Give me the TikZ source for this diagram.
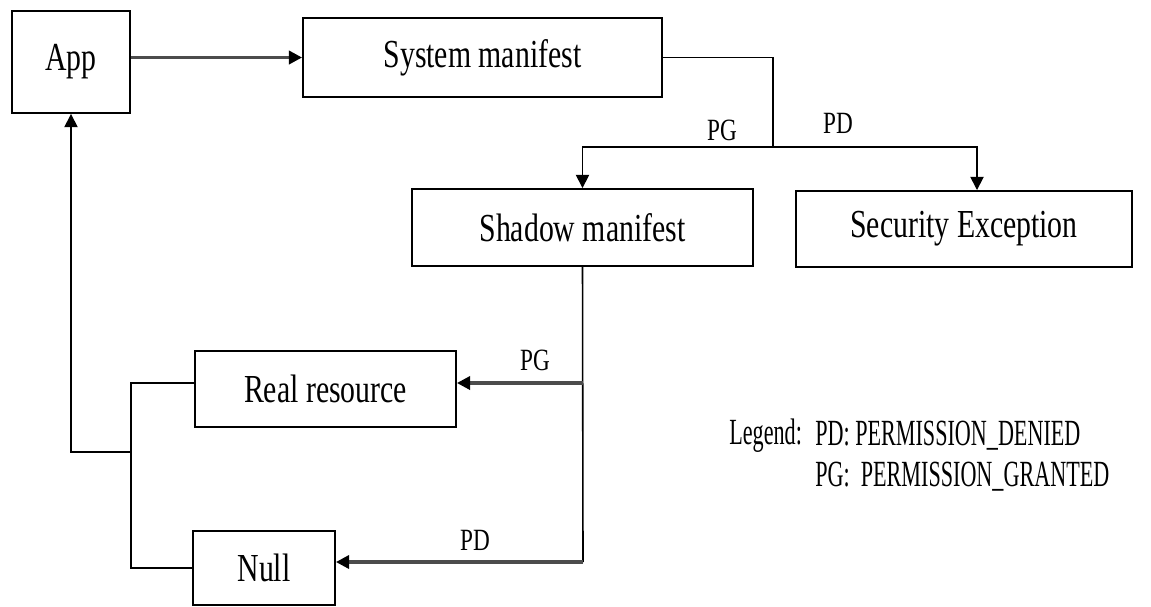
\documentclass[tikz,border=0pt]{standalone}
\usepackage{fontspec}
\setmainfont{Liberation Serif}[FakeStretch=0.75]
\newfontfamily\legendfont{Liberation Serif}[FakeStretch=0.6]
\usetikzlibrary{arrows.meta}

\tikzset{>={Triangle[length=7.5pt,width=7.5pt,color=black]}}
\tikzset{
	box/.style={draw, line width=1.1pt, inner sep=0pt, font=\fontsize{22.6}{26}\selectfont},
	link/.style={line width=0.9pt},
	feed/.style={->, line width=1.8pt, draw=black!70},
	tag/.style={font=\fontsize{17.6}{20}\selectfont},
	key/.style={anchor=west, inner sep=0pt, font=\legendfont\fontsize{21}{24}\selectfont}
}

\begin{document}
\begin{tikzpicture}[x=0.02cm, y=-0.02cm]
		
			\useasboundingbox (0,0) rectangle (1151,606);
		
			% boxes
			\node[box, minimum width=2.36cm, minimum height=2.04cm] (app) at (71,62) {App};
			\node[box, minimum width=7.18cm, minimum height=1.58cm] (sysman) at (482.5,57.5) {System manifest};
			\node[box, minimum width=6.82cm, minimum height=1.54cm] (shadow) at (582.5,227.5) {Shadow manifest};
			\node[box, minimum width=6.72cm, minimum height=1.52cm] (secexc) at (964,229) {Security Exception};
			\node[box, minimum width=5.22cm, minimum height=1.52cm] (real) at (325.5,389) {Real resource};
			\node[box, minimum width=2.84cm, minimum height=1.48cm] (null) at (264,568) {Null};
			
			% turning points
			\coordinate (split) at (773,147);
			\coordinate (pdturn) at (977,147);
			\coordinate (pgturn) at (583,383);
			\coordinate (shbot) at (583,562);
			\coordinate (back) at (131,452);
			
			\draw[feed] (app.east |- sysman.west) -- (sysman.west);
			\draw[link] (sysman.east) -| (split);
			\draw[link, ->] (split) -| (shadow.north);
			\draw[link, ->] (split) -- (pdturn) -- (pdturn |- secexc.north);
			
			\draw[link] (shadow.south) -- (shbot);
			\draw[feed] (pgturn) -- (pgturn -| real.east);
			\draw[feed] (shbot) -- (shbot -| null.east);
			
			\draw[link] (real.west |- pgturn) -| (back) |- (null.west);
			\draw[link, ->] (back) -| (app.south);
			
			% branch labels
			\draw
				(722,130) node[tag] (pgtop) {PG}
				(838,123) node[tag] (pdtop) {PD}
				(535,360) node[tag] (pgmid) {PG}
				(475,540) node[tag] (pdlow) {PD};
			
			% legend
			\node[key] (legend) at (729,436) {Legend:};
			\node[key] (pdkey) at (815,436) {PD: PERMISSION\_DENIED};
			\node[key] (pgkey) at (815,477) {PG:\ \ PERMISSION\_GRANTED};
			
		\end{tikzpicture}
\end{document}
